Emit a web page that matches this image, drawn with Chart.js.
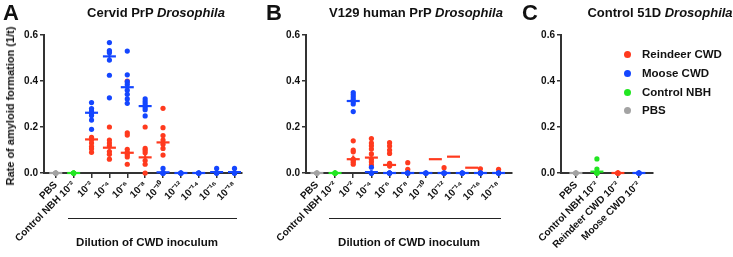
<!DOCTYPE html>
<html>
<head>
<meta charset="utf-8">
<script src="https://cdn.jsdelivr.net/npm/chart.js@4"></script>
<style>
  body { margin: 0; background: #fff; font-family: "Liberation Sans", Arial, sans-serif; }
  #wrap { position: relative; width: 733px; height: 257px; overflow: hidden; }
  canvas { position: absolute; top: 0; }
  .txt { position: absolute; font-weight: bold; color: #111; white-space: nowrap; }
  .letter { font-size: 22px; }
  .title { font-size: 13px; transform: translateX(-50%); }
  .ytitle { font-size: 11px; transform: translate(-50%, -50%) rotate(-90deg); }
  .xtitle { font-size: 11.5px; transform: translateX(-50%); }
  .bracket { position: absolute; height: 0; border-top: 1.5px solid #222; }
  .leg { position: absolute; font-size: 11.5px; font-weight: bold; color: #111; }
  .leg i { position: absolute; left: -18px; top: 3px; width: 7px; height: 7px; border-radius: 50%; }
</style>
</head>
<body>
<div id="wrap">
  <canvas id="chartA" width="250" height="257" style="left:0px"></canvas>
  <canvas id="chartB" width="270" height="257" style="left:250px"></canvas>
  <canvas id="chartC" width="233" height="257" style="left:500px"></canvas>

  <div class="txt letter" style="left:3px;top:0px">A</div>
  <div class="txt letter" style="left:266px;top:0px">B</div>
  <div class="txt letter" style="left:522px;top:0px">C</div>

  <div class="txt title" style="left:156px;top:5px">Cervid PrP <i>Drosophila</i></div>
  <div class="txt title" style="left:416px;top:5px">V129 human PrP <i>Drosophila</i></div>
  <div class="txt title" style="left:660px;top:5px">Control 51D <i>Drosophila</i></div>

  <div class="txt ytitle" style="left:10px;top:106px">Rate of amyloid formation (1/t)</div>

  <div class="bracket" style="left:68px;top:218px;width:169px"></div>
  <div class="bracket" style="left:329px;top:218px;width:172px"></div>
  <div class="txt xtitle" style="left:147px;top:236px">Dilution of CWD inoculum</div>
  <div class="txt xtitle" style="left:409px;top:236px">Dilution of CWD inoculum</div>

  <div class="leg" style="left:642px;top:48px"><i style="background:#ff3a1e"></i>Reindeer CWD</div>
  <div class="leg" style="left:642px;top:67px"><i style="background:#1446ff"></i>Moose CWD</div>
  <div class="leg" style="left:642px;top:86px"><i style="background:#22e622"></i>Control NBH</div>
  <div class="leg" style="left:642px;top:104px"><i style="background:#a3a3a3"></i>PBS</div>
</div>

<script>
// colours
const RED = '#ff3a1e', BLUE = '#1446ff', GREEN = '#22e622', GREY = '#a3a3a3';

// tick labels
const dilutionLabels = ['PBS', 'Control NBH 10⁻²', '10⁻²', '10⁻⁴', '10⁻⁶', '10⁻⁸', '10⁻¹⁰', '10⁻¹²', '10⁻¹⁴', '10⁻¹⁶', '10⁻¹⁸'];
const controlLabels = ['PBS', 'Control NBH 10⁻²', 'Reindeer CWD 10⁻²', 'Moose CWD 10⁻²'];

// Panel A - Cervid PrP (one list of replicate values per category)
const aPbs = [[0, 0, 0, 0, 0], [], [], [], [], [], [], [], [], [], []];
const aNbh = [[], [0, 0, 0, 0, 0], [], [], [], [], [], [], [], [], []];
const aReindeer = [[], [],
  [0.155, 0.145, 0.13, 0.115, 0.105, 0.09],
  [0.2, 0.143, 0.13, 0.118, 0.093, 0.081, 0.06],
  [0.40, 0.175, 0.165, 0.103, 0.09, 0.08, 0.07, 0.038],
  [0.2, 0.107, 0.098, 0.088, 0.054, 0.038, 0.0],
  [0.281, 0.197, 0.163, 0.143, 0.125, 0.107, 0.078],
  [], [], [], []];
const aMoose = [[], [],
  [0.306, 0.28, 0.27, 0.26, 0.25, 0.23, 0.19],
  [0.567, 0.532, 0.523, 0.491, 0.425, 0.327],
  [0.53, 0.427, 0.397, 0.385, 0.36, 0.342, 0.322, 0.303],
  [0.322, 0.31, 0.3, 0.285, 0.275, 0.248],
  [0.02, 0, 0, 0, 0],
  [0, 0, 0, 0], [0, 0, 0, 0], [0.02, 0, 0, 0], [0.02, 0, 0, 0]];
const aPbsMean = [0, null, null, null, null, null, null, null, null, null, null];
const aNbhMean = [null, 0, null, null, null, null, null, null, null, null, null];
const aReindeerMean = [null, null, 0.146, 0.11, 0.088, 0.068, 0.133, null, null, null, null];
const aReindeerSem = [0, 0, 0.018, 0.018, 0.018, 0.02, 0.025, 0, 0, 0, 0];
const aMooseMean = [null, null, 0.262, 0.507, 0.373, 0.291, 0.003, 0, 0, 0.004, 0.004];
const aMooseSem = [0, 0, 0.025, 0.015, 0.03, 0.02, 0.004, 0, 0, 0.004, 0.004];

// Panel B - V129 human PrP
const bPbs = aPbs;
const bNbh = aNbh;
const bReindeer = [[], [],
  [0.14, 0.1, 0.092, 0.06, 0.055, 0.047, 0.038],
  [0.15, 0.13, 0.118, 0.104, 0.083, 0.06, 0.049, 0.035],
  [0.132, 0.117, 0.1, 0.085, 0.042, 0.03, 0.0],
  [0.045, 0.016, 0],
  [],
  [0.023, 0],
  [],
  [0.018],
  [0.016]];
const bMoose = [[], [],
  [0.35, 0.34, 0.33, 0.32, 0.31, 0.30, 0.267],
  [0.025, 0, 0, 0, 0],
  [0, 0, 0, 0], [0, 0, 0, 0], [0, 0, 0, 0], [0, 0, 0, 0], [0, 0, 0, 0], [0, 0, 0, 0], [0, 0, 0, 0]];
const bReindeerMean = [null, null, 0.06, 0.067, 0.035, null, null, 0.06, 0.071, 0.023, null];
const bReindeerSem = [0, 0, 0.016, 0.016, 0.014, 0, 0, 0, 0, 0, 0];
const bReindeerShift = [0, 0, 0, 0, 0, 0, 0, -0.48, -0.48, -0.48, 0];
const bMooseMean = [null, null, 0.313, 0.004, 0, 0, 0, 0, 0, 0, 0];
const bMooseSem = [0, 0, 0.02, 0.004, 0, 0, 0, 0, 0, 0, 0];

// Panel C - Control 51D
const cPbs = [[0, 0, 0, 0, 0], [], [], []];
const cNbh = [[], [0.061, 0.017, 0, 0, 0, 0], [], []];
const cReindeer = [[], [], [0, 0, 0, 0, 0], []];
const cMoose = [[], [], [], [0, 0, 0, 0, 0]];
const cPbsMean = [0, null, null, null];
const cNbhMean = [null, 0.006, null, null];
const cNbhSem = [0, 0.008, 0, 0];
const cReindeerMean = [null, null, 0, null];
const cMooseMean = [null, null, null, 0];

function pointSet(groups, color) {
  const data = [];
  groups.forEach((vals, i) => vals.forEach(v => data.push({ x: i, y: v })));
  return { type: 'scatter', data, pointRadius: 2.6, pointHoverRadius: 2.6,
           backgroundColor: color, borderWidth: 0, clip: false };
}

function meanSet(means, color, shift, halfLen) {
  const data = [];
  means.forEach((m, i) => { if (m !== null) data.push({ x: i + (shift ? shift[i] : 0), y: m }); });
  return { type: 'scatter', data, pointStyle: 'line', pointRadius: halfLen || 6.5,
           borderColor: color, borderWidth: 2.2, clip: false };
}

function semSet(means, sems, color) {
  const data = [];
  means.forEach((m, i) => {
    if (m === null || !sems[i]) return;
    data.push({ x: i, y: m - sems[i] }, { x: i, y: m + sems[i] }, { x: i, y: null });
  });
  return { type: 'line', data, borderColor: color, borderWidth: 2, pointRadius: 0,
           spanGaps: false, clip: false };
}

function makeChart(id, labels, datasets, xMin, xMax, padRight, yWidth) {
  const axisColor = '#333';
  return new Chart(document.getElementById(id), {
    type: 'scatter',
    data: { datasets },
    options: {
      responsive: false,
      animation: false,
      events: [],
      layout: { padding: { top: 35, right: padRight, bottom: 0, left: 0 } },
      plugins: { legend: { display: false }, tooltip: { enabled: false } },
      scales: {
        x: {
          type: 'linear', min: xMin, max: xMax,
          afterBuildTicks: s => { s.ticks = labels.map((l, i) => ({ value: i })); },
          afterFit: s => { s.height = 84; },
          grid: { drawOnChartArea: false, drawTicks: true, tickLength: 5, color: axisColor, lineWidth: 1.5 },
          border: { display: true, color: axisColor, width: 2 },
          ticks: {
            autoSkip: false, minRotation: 45, maxRotation: 45, padding: 1,
            color: '#111', font: { family: 'Liberation Sans, Arial', weight: 'bold', size: 10 },
            callback: v => labels[v]
          }
        },
        y: {
          min: 0, max: 0.6,
          afterFit: s => { s.width = yWidth; },
          grid: { drawOnChartArea: false, drawTicks: true, tickLength: 4, color: axisColor, lineWidth: 1.5 },
          border: { display: true, color: axisColor, width: 2 },
          ticks: {
            stepSize: 0.2, padding: 2, color: '#111',
            font: { family: 'Liberation Sans, Arial', weight: 'bold', size: 10 },
            callback: v => v.toFixed(1)
          }
        }
      }
    }
  });
}

makeChart('chartA', dilutionLabels, [
  meanSet(aMooseMean, BLUE), semSet(aMooseMean, aMooseSem, BLUE),
  meanSet(aReindeerMean, RED), semSet(aReindeerMean, aReindeerSem, RED),
  meanSet(aNbhMean, GREEN), meanSet(aPbsMean, GREY),
  pointSet(aMoose, BLUE), pointSet(aReindeer, RED),
  pointSet(aNbh, GREEN), pointSet(aPbs, GREY)
], -0.66, 10.38, 5, 44);

makeChart('chartB', dilutionLabels, [
  meanSet(bMooseMean, BLUE), semSet(bMooseMean, bMooseSem, BLUE),
  meanSet(bReindeerMean, RED, bReindeerShift), semSet(bReindeerMean, bReindeerSem, RED),
  meanSet(aNbhMean, GREEN), meanSet(aPbsMean, GREY),
  pointSet(bMoose, BLUE), pointSet(bReindeer, RED),
  pointSet(bNbh, GREEN), pointSet(bPbs, GREY)
], -0.6, 10.7, 8, 56);

makeChart('chartC', controlLabels, [
  meanSet(cMooseMean, BLUE), meanSet(cReindeerMean, RED),
  meanSet(cNbhMean, GREEN), semSet(cNbhMean, cNbhSem, GREEN), meanSet(cPbsMean, GREY),
  pointSet(cMoose, BLUE), pointSet(cReindeer, RED),
  pointSet(cNbh, GREEN), pointSet(cPbs, GREY)
], -0.71, 3.67, 80, 61);
</script>
</body>
</html>
